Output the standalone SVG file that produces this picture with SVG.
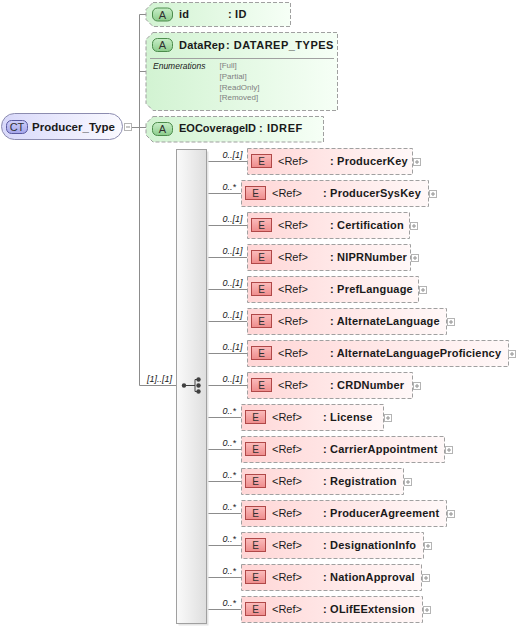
<svg xmlns="http://www.w3.org/2000/svg" width="517" height="630" viewBox="0 0 517 630">
<defs>
<linearGradient id="gEl" x1="0" y1="0" x2="1" y2="0"><stop offset="0" stop-color="#ffd6d6"/><stop offset="1" stop-color="#fff8f8"/></linearGradient>
<linearGradient id="gAt" x1="0" y1="0" x2="1" y2="0"><stop offset="0" stop-color="#d2f3d2"/><stop offset="1" stop-color="#f6fff6"/></linearGradient>
<linearGradient id="gCT" x1="0" y1="0" x2="1" y2="0"><stop offset="0" stop-color="#d8d8fa"/><stop offset="1" stop-color="#fafaff"/></linearGradient>
<linearGradient id="gE" x1="0" y1="0" x2="0" y2="1"><stop offset="0" stop-color="#fbbcbc"/><stop offset="1" stop-color="#ee8c8c"/></linearGradient>
<linearGradient id="gA" x1="0" y1="0" x2="0" y2="1"><stop offset="0" stop-color="#c8efc8"/><stop offset="1" stop-color="#8ccc8c"/></linearGradient>
<linearGradient id="gCTb" x1="0" y1="0" x2="0" y2="1"><stop offset="0" stop-color="#d0d0fa"/><stop offset="1" stop-color="#a4a4ea"/></linearGradient>
<linearGradient id="gSeq" x1="0" y1="0" x2="1" y2="0"><stop offset="0" stop-color="#fafafa"/><stop offset="1" stop-color="#dedede"/></linearGradient>
</defs>
<style>
.el{fill:url(#gEl);stroke:#a0a0a0;stroke-dasharray:4 2;}
.at{fill:url(#gAt);stroke:#a0a0a0;stroke-dasharray:4 2;}
.eb{fill:url(#gE);stroke:#b04848;}
.ab{fill:url(#gA);stroke:#4c8c4c;}
.bt{font-family:"Liberation Sans",Arial,sans-serif;font-size:10px;fill:#303030;text-anchor:middle;}
.ref{font-family:"Liberation Sans",Arial,sans-serif;font-size:11px;fill:#1a1a1a;}
.nm{font-family:"Liberation Sans",Arial,sans-serif;font-size:11px;font-weight:bold;fill:#1a1a1a;letter-spacing:0.2px;}
.mu{font-family:"Liberation Sans",Arial,sans-serif;font-size:9px;font-style:italic;fill:#202020;}
.ln{stroke:#8c8c8c;fill:none;}
.pb{fill:#ffffff;stroke:#b4b4b4;}
.pl{stroke:#909090;}
.en{font-family:"Liberation Sans",Arial,sans-serif;font-size:8px;fill:#808080;}
</style>
<rect width="517" height="630" fill="#ffffff"/>

<g id="connectors">
<line class="ln" x1="131" y1="127.5" x2="139.5" y2="127.5"/>
<line class="ln" x1="139.5" y1="14.5" x2="139.5" y2="385.5"/>
<line class="ln" x1="139.5" y1="14.5" x2="146" y2="14.5"/>
<line class="ln" x1="139.5" y1="71.5" x2="146" y2="71.5"/>
<line class="ln" x1="139.5" y1="127.5" x2="146" y2="127.5"/>
<line class="ln" x1="139.5" y1="385.5" x2="176.5" y2="385.5"/>
<text class="mu" x="147" y="382">[1]..[1]</text>
<line class="ln" x1="206.5" y1="161.5" x2="247" y2="161.5"/>
<line class="ln" x1="206.5" y1="193.5" x2="241" y2="193.5"/>
<line class="ln" x1="206.5" y1="225.5" x2="247" y2="225.5"/>
<line class="ln" x1="206.5" y1="257.5" x2="247" y2="257.5"/>
<line class="ln" x1="206.5" y1="289.5" x2="247" y2="289.5"/>
<line class="ln" x1="206.5" y1="321.5" x2="247" y2="321.5"/>
<line class="ln" x1="206.5" y1="353.5" x2="247" y2="353.5"/>
<line class="ln" x1="206.5" y1="385.5" x2="247" y2="385.5"/>
<line class="ln" x1="206.5" y1="417.5" x2="241" y2="417.5"/>
<line class="ln" x1="206.5" y1="449.5" x2="241" y2="449.5"/>
<line class="ln" x1="206.5" y1="481.5" x2="241" y2="481.5"/>
<line class="ln" x1="206.5" y1="513.5" x2="241" y2="513.5"/>
<line class="ln" x1="206.5" y1="545.5" x2="241" y2="545.5"/>
<line class="ln" x1="206.5" y1="577.5" x2="241" y2="577.5"/>
<line class="ln" x1="206.5" y1="609.5" x2="241" y2="609.5"/>
<text class="mu" x="222.5" y="157.5">0..[1]</text>
<text class="mu" x="222.5" y="189.5">0..*</text>
<text class="mu" x="222.5" y="221.5">0..[1]</text>
<text class="mu" x="222.5" y="253.5">0..[1]</text>
<text class="mu" x="222.5" y="285.5">0..[1]</text>
<text class="mu" x="222.5" y="317.5">0..[1]</text>
<text class="mu" x="222.5" y="349.5">0..[1]</text>
<text class="mu" x="222.5" y="381.5">0..[1]</text>
<text class="mu" x="222.5" y="413.5">0..*</text>
<text class="mu" x="222.5" y="445.5">0..*</text>
<text class="mu" x="222.5" y="477.5">0..*</text>
<text class="mu" x="222.5" y="509.5">0..*</text>
<text class="mu" x="222.5" y="541.5">0..*</text>
<text class="mu" x="222.5" y="573.5">0..*</text>
<text class="mu" x="222.5" y="605.5">0..*</text>
</g>

<g id="Producer_Type">
<rect x="1.5" y="113.5" width="121" height="26" rx="13" fill="url(#gCT)" stroke="#8c8cb0"/>
<rect x="6.5" y="120.5" width="21" height="13" rx="5" fill="url(#gCTb)" stroke="#5a5aa0"/>
<text class="bt" x="17" y="131" style="font-size:11px">CT</text>
<text class="nm" x="32" y="131" style="font-size:11.5px;letter-spacing:0">Producer_Type</text>
<rect class="pb" x="124.5" y="123.5" width="7" height="7"/>
<line class="pl" x1="126" y1="127" x2="130" y2="127"/>
</g>

<g id="attr_id">
<polygon class="at" points="153,2.5 290.5,2.5 290.5,26.5 153,26.5 146,19.5 146,9.5"/>
<rect class="ab" x="152.5" y="8" width="20" height="13" rx="5"/>
<text class="bt" x="162.5" y="18.5" style="font-size:11px">A</text>
<text class="nm" x="179" y="18">id</text>
<text class="nm" x="228" y="18">: ID</text>
</g>

<g id="attr_DataRep">
<polygon class="at" points="153,32.5 337.5,32.5 337.5,110.5 153,110.5 146,103.5 146,39.5"/>
<rect class="ab" x="152.5" y="38.5" width="20" height="13" rx="5"/>
<text class="bt" x="162.5" y="49" style="font-size:11px">A</text>
<text class="nm" x="179" y="48.5">DataRep</text>
<text class="nm" x="226" y="48.5" style="letter-spacing:0.5px">: DATAREP_TYPES</text>
<line x1="150" y1="58.5" x2="334" y2="58.5" stroke="#a0a0a0"/>
<text x="153" y="68.5" style="font-family:'Liberation Sans',Arial,sans-serif;font-size:8.5px;font-style:italic;fill:#1a1a1a">Enumerations</text>
<text class="en" x="219.5" y="68">[Full]</text>
<text class="en" x="219.5" y="78.5">[Partial]</text>
<text class="en" x="219.5" y="89.5">[ReadOnly]</text>
<text class="en" x="219.5" y="100">[Removed]</text>
</g>

<g id="attr_EOCoverageID">
<polygon class="at" points="153,116.5 323.5,116.5 323.5,142 153,142 146,135 146,123.5"/>
<rect class="ab" x="152.5" y="122.5" width="20" height="13" rx="5"/>
<text class="bt" x="162.5" y="133" style="font-size:11px">A</text>
<text class="nm" x="179" y="132" style="letter-spacing:0">EOCoverageID</text>
<text class="nm" x="259" y="132" style="letter-spacing:0.6px">: IDREF</text>
</g>

<g id="sequence">
<rect x="178.5" y="151.5" width="30" height="474" fill="#e4e4e4"/>
<rect x="176.5" y="149.5" width="30" height="474" fill="url(#gSeq)" stroke="#a0a0a0"/>
<line x1="183" y1="385.5" x2="195" y2="385.5" stroke="#404040"/>
<line x1="195" y1="379.5" x2="195" y2="391.5" stroke="#404040"/>
<line x1="195" y1="379.5" x2="198" y2="379.5" stroke="#404040"/>
<line x1="195" y1="391.5" x2="198" y2="391.5" stroke="#404040"/>
<circle cx="184" cy="385.5" r="2.2" fill="#404040"/>
<circle cx="198.5" cy="379.5" r="2.2" fill="#404040"/>
<circle cx="198.5" cy="385.5" r="2.2" fill="#404040"/>
<circle cx="198.5" cy="391.5" r="2.2" fill="#404040"/>
</g>

<g id="el_ProducerKey">
<rect class="el" x="247.5" y="148.5" width="165" height="26"/>
<rect class="eb" x="251.5" y="154.5" width="20" height="13"/>
<text class="bt" x="261.5" y="165">E</text>
<text class="ref" x="278" y="165">&lt;Ref&gt;</text>
<text class="nm" x="330" y="165">: ProducerKey</text>
<rect class="pb" x="413.5" y="158.5" width="7" height="7"/>
<path class="pl" d="M415 162H419M417 160V164"/>
</g>

<g id="el_ProducerSysKey">
<rect class="el" x="241.5" y="180.5" width="187" height="26"/>
<rect class="eb" x="245.5" y="186.5" width="20" height="13"/>
<text class="bt" x="255.5" y="197">E</text>
<text class="ref" x="272" y="197">&lt;Ref&gt;</text>
<text class="nm" x="323" y="197">: ProducerSysKey</text>
<rect class="pb" x="429.5" y="190.5" width="7" height="7"/>
<path class="pl" d="M431 194H435M433 192V196"/>
</g>

<g id="el_Certification">
<rect class="el" x="247.5" y="212.5" width="162" height="26"/>
<rect class="eb" x="251.5" y="218.5" width="20" height="13"/>
<text class="bt" x="261.5" y="229">E</text>
<text class="ref" x="278" y="229">&lt;Ref&gt;</text>
<text class="nm" x="330" y="229">: Certification</text>
<rect class="pb" x="410.5" y="222.5" width="7" height="7"/>
<path class="pl" d="M412 226H416M414 224V228"/>
</g>

<g id="el_NIPRNumber">
<rect class="el" x="247.5" y="244.5" width="163" height="26"/>
<rect class="eb" x="251.5" y="250.5" width="20" height="13"/>
<text class="bt" x="261.5" y="261">E</text>
<text class="ref" x="278" y="261">&lt;Ref&gt;</text>
<text class="nm" x="330" y="261">: NIPRNumber</text>
<rect class="pb" x="411.5" y="254.5" width="7" height="7"/>
<path class="pl" d="M413 258H417M415 256V260"/>
</g>

<g id="el_PrefLanguage">
<rect class="el" x="247.5" y="276.5" width="171" height="26"/>
<rect class="eb" x="251.5" y="282.5" width="20" height="13"/>
<text class="bt" x="261.5" y="293">E</text>
<text class="ref" x="278" y="293">&lt;Ref&gt;</text>
<text class="nm" x="330" y="293">: PrefLanguage</text>
<rect class="pb" x="419.5" y="286.5" width="7" height="7"/>
<path class="pl" d="M421 290H425M423 288V292"/>
</g>

<g id="el_AlternateLanguage">
<rect class="el" x="247.5" y="308.5" width="199" height="26"/>
<rect class="eb" x="251.5" y="314.5" width="20" height="13"/>
<text class="bt" x="261.5" y="325">E</text>
<text class="ref" x="278" y="325">&lt;Ref&gt;</text>
<text class="nm" x="330" y="325">: AlternateLanguage</text>
<rect class="pb" x="447.5" y="318.5" width="7" height="7"/>
<path class="pl" d="M449 322H453M451 320V324"/>
</g>

<g id="el_AlternateLanguageProficiency">
<rect class="el" x="247.5" y="340.5" width="261" height="26"/>
<rect class="eb" x="251.5" y="346.5" width="20" height="13"/>
<text class="bt" x="261.5" y="357">E</text>
<text class="ref" x="278" y="357">&lt;Ref&gt;</text>
<text class="nm" x="330" y="357">: AlternateLanguageProficiency</text>
<rect class="pb" x="508.5" y="350.5" width="7" height="7"/>
<path class="pl" d="M510 354H514M512 352V356"/>
</g>

<g id="el_CRDNumber">
<rect class="el" x="247.5" y="372.5" width="165" height="26"/>
<rect class="eb" x="251.5" y="378.5" width="20" height="13"/>
<text class="bt" x="261.5" y="389">E</text>
<text class="ref" x="278" y="389">&lt;Ref&gt;</text>
<text class="nm" x="330" y="389">: CRDNumber</text>
<rect class="pb" x="413.5" y="382.5" width="7" height="7"/>
<path class="pl" d="M415 386H419M417 384V388"/>
</g>

<g id="el_License">
<rect class="el" x="241.5" y="404.5" width="142" height="26"/>
<rect class="eb" x="245.5" y="410.5" width="20" height="13"/>
<text class="bt" x="255.5" y="421">E</text>
<text class="ref" x="272" y="421">&lt;Ref&gt;</text>
<text class="nm" x="323" y="421">: License</text>
<rect class="pb" x="384.5" y="414.5" width="7" height="7"/>
<path class="pl" d="M386 418H390M388 416V420"/>
</g>

<g id="el_CarrierAppointment">
<rect class="el" x="241.5" y="436.5" width="203" height="26"/>
<rect class="eb" x="245.5" y="442.5" width="20" height="13"/>
<text class="bt" x="255.5" y="453">E</text>
<text class="ref" x="272" y="453">&lt;Ref&gt;</text>
<text class="nm" x="323" y="453">: CarrierAppointment</text>
<rect class="pb" x="445.5" y="446.5" width="7" height="7"/>
<path class="pl" d="M447 450H451M449 448V452"/>
</g>

<g id="el_Registration">
<rect class="el" x="241.5" y="468.5" width="162" height="26"/>
<rect class="eb" x="245.5" y="474.5" width="20" height="13"/>
<text class="bt" x="255.5" y="485">E</text>
<text class="ref" x="272" y="485">&lt;Ref&gt;</text>
<text class="nm" x="323" y="485">: Registration</text>
<rect class="pb" x="404.5" y="478.5" width="7" height="7"/>
<path class="pl" d="M406 482H410M408 480V484"/>
</g>

<g id="el_ProducerAgreement">
<rect class="el" x="241.5" y="500.5" width="205" height="26"/>
<rect class="eb" x="245.5" y="506.5" width="20" height="13"/>
<text class="bt" x="255.5" y="517">E</text>
<text class="ref" x="272" y="517">&lt;Ref&gt;</text>
<text class="nm" x="323" y="517">: ProducerAgreement</text>
<rect class="pb" x="447.5" y="510.5" width="7" height="7"/>
<path class="pl" d="M449 514H453M451 512V516"/>
</g>

<g id="el_DesignationInfo">
<rect class="el" x="241.5" y="532.5" width="182" height="26"/>
<rect class="eb" x="245.5" y="538.5" width="20" height="13"/>
<text class="bt" x="255.5" y="549">E</text>
<text class="ref" x="272" y="549">&lt;Ref&gt;</text>
<text class="nm" x="323" y="549">: DesignationInfo</text>
<rect class="pb" x="424.5" y="542.5" width="7" height="7"/>
<path class="pl" d="M426 546H430M428 544V548"/>
</g>

<g id="el_NationApproval">
<rect class="el" x="241.5" y="564.5" width="180" height="26"/>
<rect class="eb" x="245.5" y="570.5" width="20" height="13"/>
<text class="bt" x="255.5" y="581">E</text>
<text class="ref" x="272" y="581">&lt;Ref&gt;</text>
<text class="nm" x="323" y="581">: NationApproval</text>
<rect class="pb" x="422.5" y="574.5" width="7" height="7"/>
<path class="pl" d="M424 578H428M426 576V580"/>
</g>

<g id="el_OLifEExtension">
<rect class="el" x="241.5" y="596.5" width="181" height="26"/>
<rect class="eb" x="245.5" y="602.5" width="20" height="13"/>
<text class="bt" x="255.5" y="613">E</text>
<text class="ref" x="272" y="613">&lt;Ref&gt;</text>
<text class="nm" x="323" y="613">: OLifEExtension</text>
<rect class="pb" x="423.5" y="606.5" width="7" height="7"/>
<path class="pl" d="M425 610H429M427 608V612"/>
</g>
</svg>
